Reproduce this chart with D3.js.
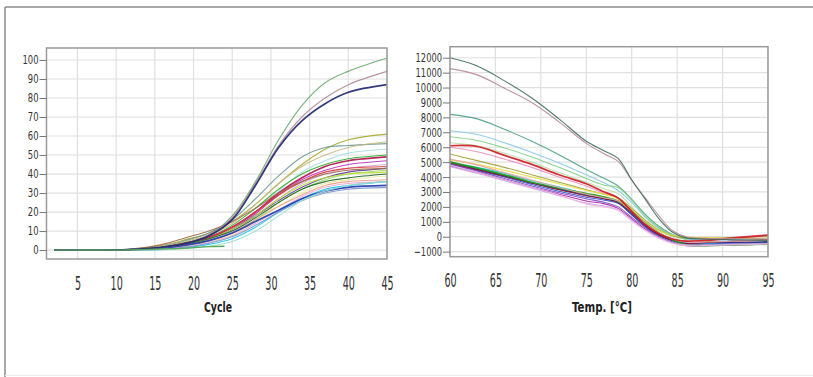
<!DOCTYPE html>
<html>
<head>
<meta charset="utf-8">
<script src="https://cdn.jsdelivr.net/npm/d3@7"></script>
<style>
  body { margin: 0; background: #fff; }
  svg { display: block; }
  .tick text { font-family: "Liberation Sans Narrow", "DejaVu Sans Condensed", sans-serif; fill: #333; }
  .title { font-family: "DejaVu Sans Condensed", "Liberation Sans Narrow", sans-serif; font-weight: bold; fill: #222; }
</style>
</head>
<body>
<script>
// amplification curves (left)
const ampCycles = [2, 10, 13, 16, 19, 22, 25, 28, 31, 34, 37, 40, 45];
const ampColors = [
  "#a8a830", "#6a9a98", "#c8b880", "#a8dce8", "#28b028", "#b0104a", "#c030c0",
  "#c8a8e0", "#e03838", "#6040a8", "#98dc68", "#b8e028", "#1e6a1e", "#f0e8a0",
  "#e8a088", "#f0a8d0", "#18c4ea", "#2038b0", "#7a98c8", "#98e0d0", "#a06848",
  "#6aaa70", "#b08898", "#1c2470"
];
const ampValues = [
  [0, 0, 0.8, 2.5, 5.5, 9, 15, 24, 35, 45, 53, 58, 61],
  [0, 0, 0.6, 2, 5, 9, 16, 27, 39, 49, 54, 55, 56],
  [0, 0, 0.5, 1.8, 4.5, 8, 14, 24, 35, 44, 50, 54, 57],
  [0, 0, 0.3, 1, 3, 6, 11, 20, 31, 41, 47, 51, 53],
  [0, 0, 0.4, 1.5, 4, 7, 13, 22, 32, 40, 45, 48, 50],
  [0, 0, 0.4, 1.3, 3.5, 6.5, 12, 20, 30, 38, 44, 47, 49],
  [0, 0, 0.3, 1.2, 3, 6, 11, 19, 29, 37, 42, 45, 47],
  [0, 0, 0.2, 0.8, 2.5, 5, 10, 18, 27, 35, 40, 43, 45],
  [0, 0, 0.4, 1.4, 3.8, 7, 12, 20, 29, 36, 41, 43, 44],
  [0, 0, 0.3, 1.2, 3.2, 6, 11, 18, 26, 33, 38, 41, 43],
  [0, 0, 0.2, 0.8, 2.4, 5, 9, 16, 25, 32, 37, 40, 42],
  [0, 0, 0.3, 1.2, 3, 6, 11, 18, 27, 34, 38, 40, 41],
  [0, 0, 0.3, 1.2, 3, 6, 10, 17, 25, 32, 36, 38, 40],
  [0, 0, 0.2, 0.7, 2, 4.5, 8, 15, 23, 30, 35, 37, 39],
  [0, 0, 0.3, 1, 2.6, 5, 9, 16, 23, 29, 34, 36, 37],
  [0, 0, 0.1, 0.5, 1.8, 4, 7.5, 14, 21, 28, 33, 35, 36],
  [0, 0, 0, 0.3, 1.2, 3, 6, 12, 20, 27, 32, 34, 36],
  [0, 0, 0.3, 1, 2.6, 5, 9, 15, 21, 27, 31, 33, 34],
  [0, 0, 0.1, 0.5, 1.6, 3.6, 7, 13, 20, 26, 30, 32, 33],
  [0, 0, 0, 0.2, 0.8, 2, 4.5, 10, 18, 26, 31, 34, 36],
  [0, 0, 1, 3, 6.5, 10, 15, 22, 30, 36, 40, 42, 43],
  [0, 0, 0.5, 1.5, 3.5, 8, 18, 36, 58, 76, 88, 94, 101],
  [0, 0, 0.5, 1.5, 3.5, 8, 17, 35, 55, 70, 80, 87, 94],
  [0, 0, 0.5, 1.5, 3.5, 7.5, 16, 34, 54, 68, 77, 83, 87]
];
// flat negative sample
const negCycles = [2, 10, 13, 16, 19, 22, 24];
const negValues = [0, 0, 0.2, 0.6, 1, 1.8, 2];

const ampXTicks = [5, 10, 15, 20, 25, 30, 35, 40, 45];
const ampYTicks = [0, 10, 20, 30, 40, 50, 60, 70, 80, 90, 100];

// melt curves (right)
const meltTemps = [60, 63, 66, 69, 72, 75, 77, 78.5, 80, 81.5, 83, 84.5, 86, 88, 91, 95];
const meltColors = [
  "#48a080", "#88c8e8", "#80d080", "#b8e0a8", "#e890c0", "#a0a038", "#e8e040",
  "#202078", "#20d0e8", "#3050d0", "#b020a0", "#8048c8", "#901030", "#20a020",
  "#c8a8e8", "#f0a0a0", "#f0b8e0", "#d01820", "#b88898", "#3e6e60"
];
const meltValues = [
  [8200, 7900, 7200, 6400, 5500, 4500, 3900, 3400, 2500, 1500, 700, 150, -100, -150, -200, -250],
  [7100, 6850, 6300, 5650, 4950, 4150, 3600, 3100, 2300, 1300, 550, 100, -150, -200, -250, -300],
  [6700, 6450, 5950, 5350, 4650, 3900, 3450, 3300, 2450, 1400, 600, 100, -200, -300, -350, -400],
  [6300, 6100, 5600, 5000, 4300, 3650, 3200, 2900, 2000, 1100, 400, 0, -400, -500, -500, -500],
  [6000, 5700, 5200, 4650, 4000, 3400, 2900, 2600, 1800, 900, 250, -150, -300, -200, -50, 150],
  [5550, 5100, 4650, 4150, 3650, 3150, 2850, 2600, 1900, 1100, 450, 50, -100, -100, -50, 0],
  [5150, 4850, 4450, 4000, 3550, 3100, 2850, 2550, 1800, 1000, 400, 100, 0, -50, -100, -150],
  [5000, 4550, 4100, 3600, 3200, 2800, 2550, 2300, 1500, 700, 100, -250, -450, -450, -400, -350],
  [4950, 4650, 4250, 3750, 3350, 2850, 2600, 2350, 1600, 800, 200, -200, -400, -450, -450, -450],
  [4850, 4450, 4000, 3500, 3050, 2650, 2450, 2250, 1500, 750, 150, -250, -500, -500, -450, -450],
  [4750, 4300, 3800, 3300, 2850, 2400, 2200, 1900, 1200, 500, -50, -400, -600, -600, -550, -500],
  [4900, 4400, 3900, 3400, 2950, 2550, 2300, 2000, 1300, 600, 0, -350, -550, -550, -500, -500],
  [4950, 4500, 4050, 3600, 3150, 2750, 2550, 2300, 1600, 800, 150, -250, -450, -400, -300, -200],
  [5000, 4600, 4150, 3650, 3250, 2900, 2650, 2400, 1700, 900, 250, -200, -550, -600, -550, -500],
  [4700, 4250, 3750, 3250, 2750, 2250, 2050, 1800, 1100, 450, -50, -400, -550, -550, -500, -450],
  [5200, 4800, 4300, 3800, 3300, 2850, 2600, 2400, 1700, 900, 250, -150, -350, -350, -300, -250],
  [4800, 4300, 3800, 3300, 2800, 2200, 2000, 1750, 1050, 400, -100, -450, -600, -600, -550, -500],
  [6100, 6050, 5450, 4850, 4150, 3550, 3000, 2600, 1700, 800, 200, -150, -300, -250, -100, 100],
  [11270, 10850, 9950, 9000, 7700, 6260, 5550, 5050, 3800, 2600, 1400, 400, 0, -100, -120, -150],
  [12000, 11450, 10450, 9300, 7900, 6400, 5750, 5250, 3800, 2500, 1200, 300, -80, -150, -200, -250]
];
const meltXTicks = [60, 65, 70, 75, 80, 85, 90, 95];
const meltYTicks = d3.range(-1000, 12001, 1000);

const svg = d3.select("body").append("svg")
    .attr("width", 813)
    .attr("height", 377);

// outer frame
svg.append("line").attr("x1", 5).attr("x2", 813).attr("y1", 7).attr("y2", 7)
    .attr("stroke", "#8a8a8a").attr("stroke-width", 1.5);
svg.append("line").attr("x1", 5).attr("x2", 5).attr("y1", 7).attr("y2", 377)
    .attr("stroke", "#8a8a8a").attr("stroke-width", 1.5);
svg.append("line").attr("x1", 5).attr("x2", 813).attr("y1", 375.5).attr("y2", 375.5)
    .attr("stroke", "#ececec").attr("stroke-width", 1);

function drawPanel(p) {
    const x = d3.scaleLinear().domain(p.xDomain).range(p.xRange);
    const y = d3.scaleLinear().domain(p.yDomain).range(p.yRange);
    const g = svg.append("g");

    // grid
    g.selectAll(".vgrid").data(p.xTicks).enter().append("line")
        .attr("x1", d => x(d)).attr("x2", d => x(d))
        .attr("y1", p.yRange[1]).attr("y2", p.yRange[0])
        .attr("stroke", "#e0e0e0").attr("stroke-width", 1.2);
    g.selectAll(".hgrid").data(p.yTicks).enter().append("line")
        .attr("x1", p.xRange[0]).attr("x2", p.xRange[1])
        .attr("y1", d => y(d)).attr("y2", d => y(d))
        .attr("stroke", "#e0e0e0").attr("stroke-width", 1.2);

    // curves
    const line = d3.line()
        .x(d => x(d[0]))
        .y(d => y(d[1]))
        .curve(d3.curveCatmullRom.alpha(0.5));
    p.series.forEach((vals, i) => {
        g.append("path")
            .attr("d", line(p.xs.map((t, j) => [t, vals[j]])))
            .attr("fill", "none")
            .attr("stroke", p.colors[i])
            .attr("stroke-width", p.thick.includes(i) ? 1.7 : 1.1)
            .attr("stroke-opacity", 0.9);
    });
    if (p.extra) p.extra(g, x, y, line);

    // plot frame
    g.append("rect")
        .attr("x", p.xRange[0]).attr("y", p.yRange[1])
        .attr("width", p.xRange[1] - p.xRange[0])
        .attr("height", p.yRange[0] - p.yRange[1])
        .attr("fill", "none").attr("stroke", "#9a9a9a").attr("stroke-width", 1.5);

    // y axis
    const ya = g.append("g")
        .attr("transform", `translate(${p.xRange[0]},0)`)
        .call(d3.axisLeft(y).tickValues(p.yTicks).tickSize(7).tickPadding(1).tickFormat(d3.format("d")));
    ya.select(".domain").remove();
    ya.selectAll(".tick line").attr("stroke", "#777");
    ya.selectAll("text")
        .style("font-size", p.yFont + "px")
        .attr("x", -8 / p.yScaleX)
        .attr("transform", `scale(${p.yScaleX},1)`);

    // x axis
    const xa = g.append("g")
        .attr("transform", `translate(0,${p.yRange[0]})`)
        .call(d3.axisBottom(x).tickValues(p.xTicks).tickSize(0).tickPadding(p.xPad));
    xa.select(".domain").remove();
    xa.selectAll("text")
        .style("font-size", "19px")
        .attr("transform", "scale(0.56,1)");

    g.append("text")
        .attr("class", "title")
        .attr("x", p.titleX).attr("y", 312)
        .attr("text-anchor", "middle")
        .attr("textLength", p.titleLen)
        .attr("lengthAdjust", "spacingAndGlyphs")
        .style("font-size", p.titleSize + "px")
        .text(p.title);
}

drawPanel({
    xDomain: [1, 45], xRange: [46.5, 387],
    yDomain: [-4.7, 106.3], yRange: [259, 48],
    xTicks: ampXTicks, yTicks: ampYTicks,
    xs: ampCycles, series: ampValues, colors: ampColors,
    thick: [17, 23, 5],
    yFont: 12, yScaleX: 0.78, xPad: 18,
    title: "Cycle", titleX: 218, titleSize: 14, titleLen: 28,
    extra: (g, x, y, line) => {
        g.append("path")
            .attr("d", line(negCycles.map((t, j) => [t, negValues[j]])))
            .attr("fill", "none").attr("stroke", "#58a858").attr("stroke-width", 1.3);
    }
});

drawPanel({
    xDomain: [60, 95], xRange: [450, 768],
    yDomain: [-1340, 12740], yRange: [256.7, 46.7],
    xTicks: meltXTicks, yTicks: meltYTicks,
    xs: meltTemps, series: meltValues, colors: meltColors,
    thick: [17, 7, 13],
    yFont: 12.5, yScaleX: 0.74, xPad: 17,
    title: "Temp. [°C]", titleX: 602, titleSize: 14, titleLen: 60
});
</script>
</body>
</html>
